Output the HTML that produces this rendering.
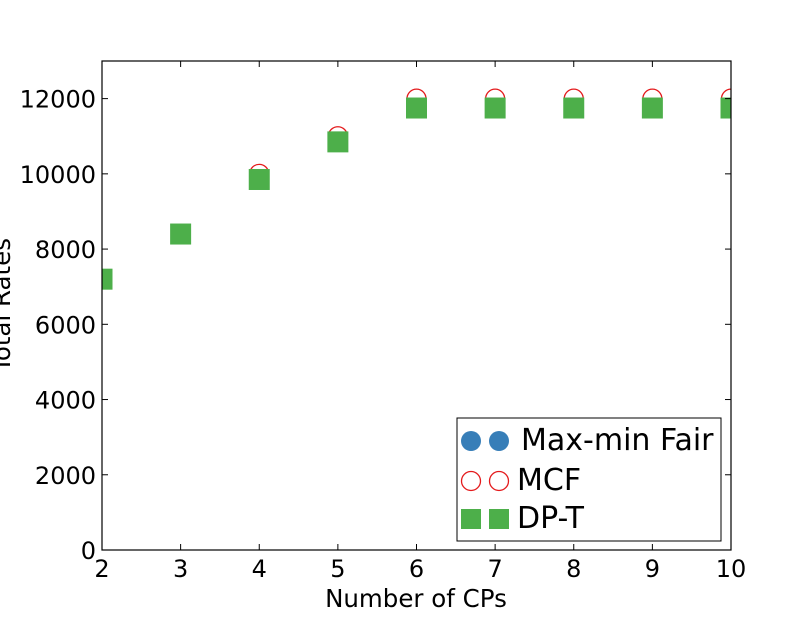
<!DOCTYPE html>
<html><head><meta charset="utf-8"><style>
body{margin:0;background:#fff;}
svg text{font-family:"DejaVu Sans","Liberation Sans",sans-serif;}
</style></head><body>
<svg id="chart" width="812" height="612" xmlns="http://www.w3.org/2000/svg">
<defs><clipPath id="pc"><rect x="102" y="61" width="629" height="489"/></clipPath></defs>
<rect width="812" height="612" fill="#fff"/>
<g id="marks" clip-path="url(#pc)"></g>
<rect x="102" y="61" width="629" height="489" fill="none" stroke="#000" stroke-width="1.2"/>
<g id="axes"></g>
<text x="416" y="607" font-size="24.5" text-anchor="middle">Number of CPs</text>
<text transform="translate(10,305) rotate(-90)" font-size="24.5" text-anchor="middle">Total Rates</text>
<g>
<rect x="457" y="418" width="264" height="123" fill="#fff" stroke="#000" stroke-width="1"/>
<g>
<circle cx="471" cy="441" r="10" fill="#377eb8"/><circle cx="499" cy="441" r="10" fill="#377eb8"/>
<text x="521" y="450" font-size="30">Max-min Fair</text></g>
<g>
<circle cx="471" cy="481" r="9.5" fill="none" stroke="#e41a1c" stroke-width="1.3"/><circle cx="499" cy="481" r="9.5" fill="none" stroke="#e41a1c" stroke-width="1.3"/>
<text x="517" y="490" font-size="30">MCF</text></g>
<g>
<rect x="461" y="509" width="20" height="20" fill="#4daf4a"/><rect x="489" y="509" width="20" height="20" fill="#4daf4a"/>
<text x="517" y="528" font-size="30">DP-T</text></g>
</g>
</svg>
<script>
const categories=[2,3,4,5,6,7,8,9,10];
const maxminValues=[7200,8400,9850,10850,11750,11750,11750,11750,11750];
const mcfValues=[7200,8400,10000,11000,12000,12000,12000,12000,12000];
const dptValues=[7200,8400,9850,10850,11750,11750,11750,11750,11750];
const xTicks=[2,3,4,5,6,7,8,9,10];
const yTicks=[0,2000,4000,6000,8000,10000,12000];
const X=v=>102+(v-2)/8*629;
const Y=v=>550-v/13000*489;
const NS="http://www.w3.org/2000/svg";
const marks=document.getElementById('marks'),axes=document.getElementById('axes');
function mk(t,a,p){const e=document.createElementNS(NS,t);for(const k in a)e.setAttribute(k,a[k]);p.appendChild(e);return e;}
categories.forEach((c,i)=>{
 const a=mk('circle',{cx:X(c),cy:Y(maxminValues[i]),r:10,fill:'#377eb8'},marks);
 
 
 const b=mk('circle',{cx:X(c),cy:Y(mcfValues[i]),r:9.5,fill:'none',stroke:'#e41a1c','stroke-width':1.3},marks);
 
 
 const s=mk('rect',{x:X(c)-10.5,y:Y(dptValues[i])-10.5,width:21,height:21,fill:'#4daf4a'},marks);
 
 
});
xTicks.forEach(t=>{
 mk('line',{x1:X(t),x2:X(t),y1:550,y2:544,stroke:'#000'},axes);
 mk('line',{x1:X(t),x2:X(t),y1:61,y2:67,stroke:'#000'},axes);
 const l=mk('text',{x:X(t),y:577,'font-size':24,'text-anchor':'middle'},axes);
 l.textContent=t;
 
 
});
yTicks.forEach(t=>{
 mk('line',{x1:102,x2:108,y1:Y(t),y2:Y(t),stroke:'#000'},axes);
 mk('line',{x1:731,x2:725,y1:Y(t),y2:Y(t),stroke:'#000'},axes);
 const l=mk('text',{x:96,y:Y(t)+9,'font-size':24,'text-anchor':'end'},axes);
 l.textContent=t;
 
 
});
</script>
</body></html>
